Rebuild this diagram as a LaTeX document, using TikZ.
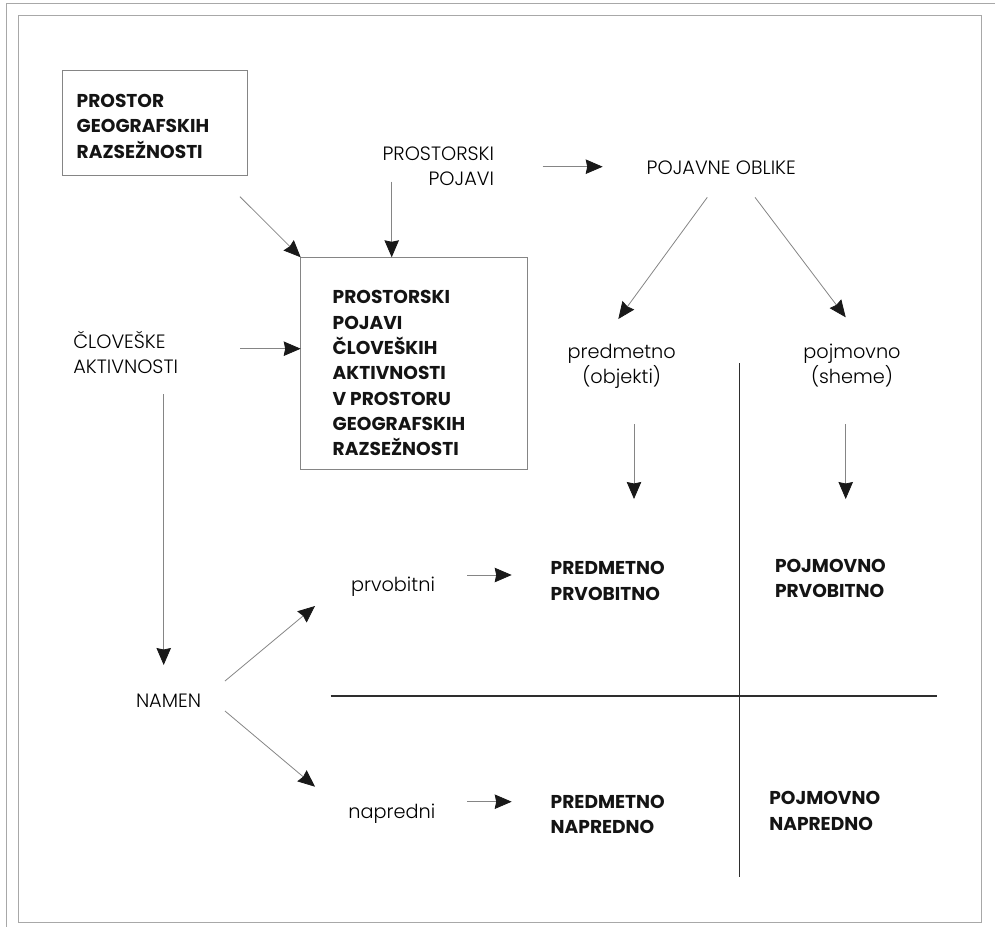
\documentclass[tikz,border=0pt]{standalone}
\usepackage{fontspec}
\usetikzlibrary{arrows.meta}
\newfontfamily\lightf{Poppins Light}
\newfontfamily\boldf{Poppins Bold}
\definecolor{linegray}{HTML}{858585}
\definecolor{framegray}{HTML}{A8A8A8}
\definecolor{griddark}{HTML}{2E2E2E}
\begin{document}
\begin{tikzpicture}[x=1pt,y=-1pt,
  every node/.style={inner sep=0pt,outer sep=0pt},
  lt/.style={font=\lightf\fontsize{19.3}{25}\selectfont,text=black},
  bt/.style={font=\boldf\fontsize{18.6}{25.3}\selectfont,text=black!92,align=left,anchor=base west},
  boxst/.style={draw=linegray,line width=0.9pt,rectangle,anchor=north west},
  arr/.style={draw=linegray,line width=0.8pt,-{Stealth[length=17pt,width=14.5pt,inset=1.5pt,color=black!90]}},
  gridline/.style={draw=griddark,line width=1.3pt}]
\useasboundingbox (0,0) rectangle (995,927);
% frames
\draw[framegray,line width=1pt] (995,3.5) -- (6.5,3.5) -- (6.5,927);
\draw[framegray,line width=1pt] (18.3,15.7) rectangle (981.7,922.7);
% boxes
\node[boxst,minimum width=185pt,minimum height=104.3pt] (b1) at (62.3,70.7) {};
\node[boxst,minimum width=227pt,minimum height=212pt] (b2) at (300.7,257.3) {};
% texts (multi-line nodes: base = baseline of last line)
\node[bt] (t1) at (76.7,158) {PROSTOR\\GEOGRAFSKIH\\RAZSEŽNOSTI};
\node[bt] (t2) at (332.7,455.7) {PROSTORSKI\\POJAVI\\ČLOVEŠKIH\\AKTIVNOSTI\\V PROSTORU\\GEOGRAFSKIH\\RAZSEŽNOSTI};
\node[lt,align=right,anchor=base east] (pp) at (494,185.7) {PROSTORSKI\\POJAVI};
\node[lt,anchor=base west] (po) at (646.7,174.3) {POJAVNE OBLIKE};
\node[lt,align=left,anchor=base west] (cl) at (73.3,373.3) {ČLOVEŠKE\\AKTIVNOSTI};
\node[lt,align=center,anchor=base] (pr) at (621.7,383) {predmetno\\(objekti)};
\node[lt,align=center,anchor=base] (pj) at (852,383) {pojmovno\\(sheme)};
\node[lt,anchor=base west] (nm) at (136,707.3) {NAMEN};
\node[lt,anchor=base west] (pv) at (351,591.7) {prvobitni};
\node[lt,anchor=base west] (np) at (348.3,818.3) {napredni};
\node[bt] (q1) at (550.7,600) {PREDMETNO\\PRVOBITNO};
\node[bt] (q2) at (775,597.7) {POJMOVNO\\PRVOBITNO};
\node[bt] (q3) at (550.7,833.3) {PREDMETNO\\NAPREDNO};
\node[bt] (q4) at (769.3,830) {POJMOVNO\\NAPREDNO};
% arrow end points
\coordinate (a1s) at (240,196.7);
\coordinate (a2s) at (391.7,181.7);
\coordinate (a2e) at (391.7,257.3);
\coordinate (a3s) at (542.7,166.7);
\coordinate (a3e) at (602.7,166.7);
\coordinate (a4s) at (240,348.7);
\coordinate (a4e) at (300.7,348.7);
\coordinate (a5s) at (707.3,197.3);
\coordinate (a5e) at (618.3,319);
\coordinate (a6s) at (755,197.3);
\coordinate (a6e) at (845.7,317.3);
\coordinate (a7s) at (634,424);
\coordinate (a7e) at (634,499);
\coordinate (a8s) at (845.7,424);
\coordinate (a8e) at (845.7,499);
\coordinate (a9s) at (163.7,394.3);
\coordinate (a9e) at (163.7,665);
\coordinate (a10s) at (225,681);
\coordinate (a10e) at (315,606);
\coordinate (a11s) at (225,711);
\coordinate (a11e) at (315,786.7);
\coordinate (a12s) at (467.3,575);
\coordinate (a12e) at (511.7,575);
\coordinate (a13s) at (467.3,801.7);
\coordinate (a13e) at (511.7,801.7);
% arrows
\draw[arr] (a1s) -- (b2.north west);
\draw[arr] (a2s) -- (a2e);
\draw[arr] (a3s) -- (a3e);
\draw[arr] (a4s) -- (a4e);
\draw[arr] (a5s) -- (a5e);
\draw[arr] (a6s) -- (a6e);
\draw[arr] (a7s) -- (a7e);
\draw[arr] (a8s) -- (a8e);
\draw[arr] (a9s) -- (a9e);
\draw[arr] (a10s) -- (a10e);
\draw[arr] (a11s) -- (a11e);
\draw[arr] (a12s) -- (a12e);
\draw[arr] (a13s) -- (a13e);
% grid
\coordinate (gv1) at (739.3,363.3);
\coordinate (gv2) at (739.3,877.3);
\coordinate (gh1) at (330.7,696);
\coordinate (gh2) at (936.7,696);
\draw[gridline] (gv1) -- (gv2);
\draw[gridline] (gh1) -- (gh2);
\end{tikzpicture}
\end{document}
